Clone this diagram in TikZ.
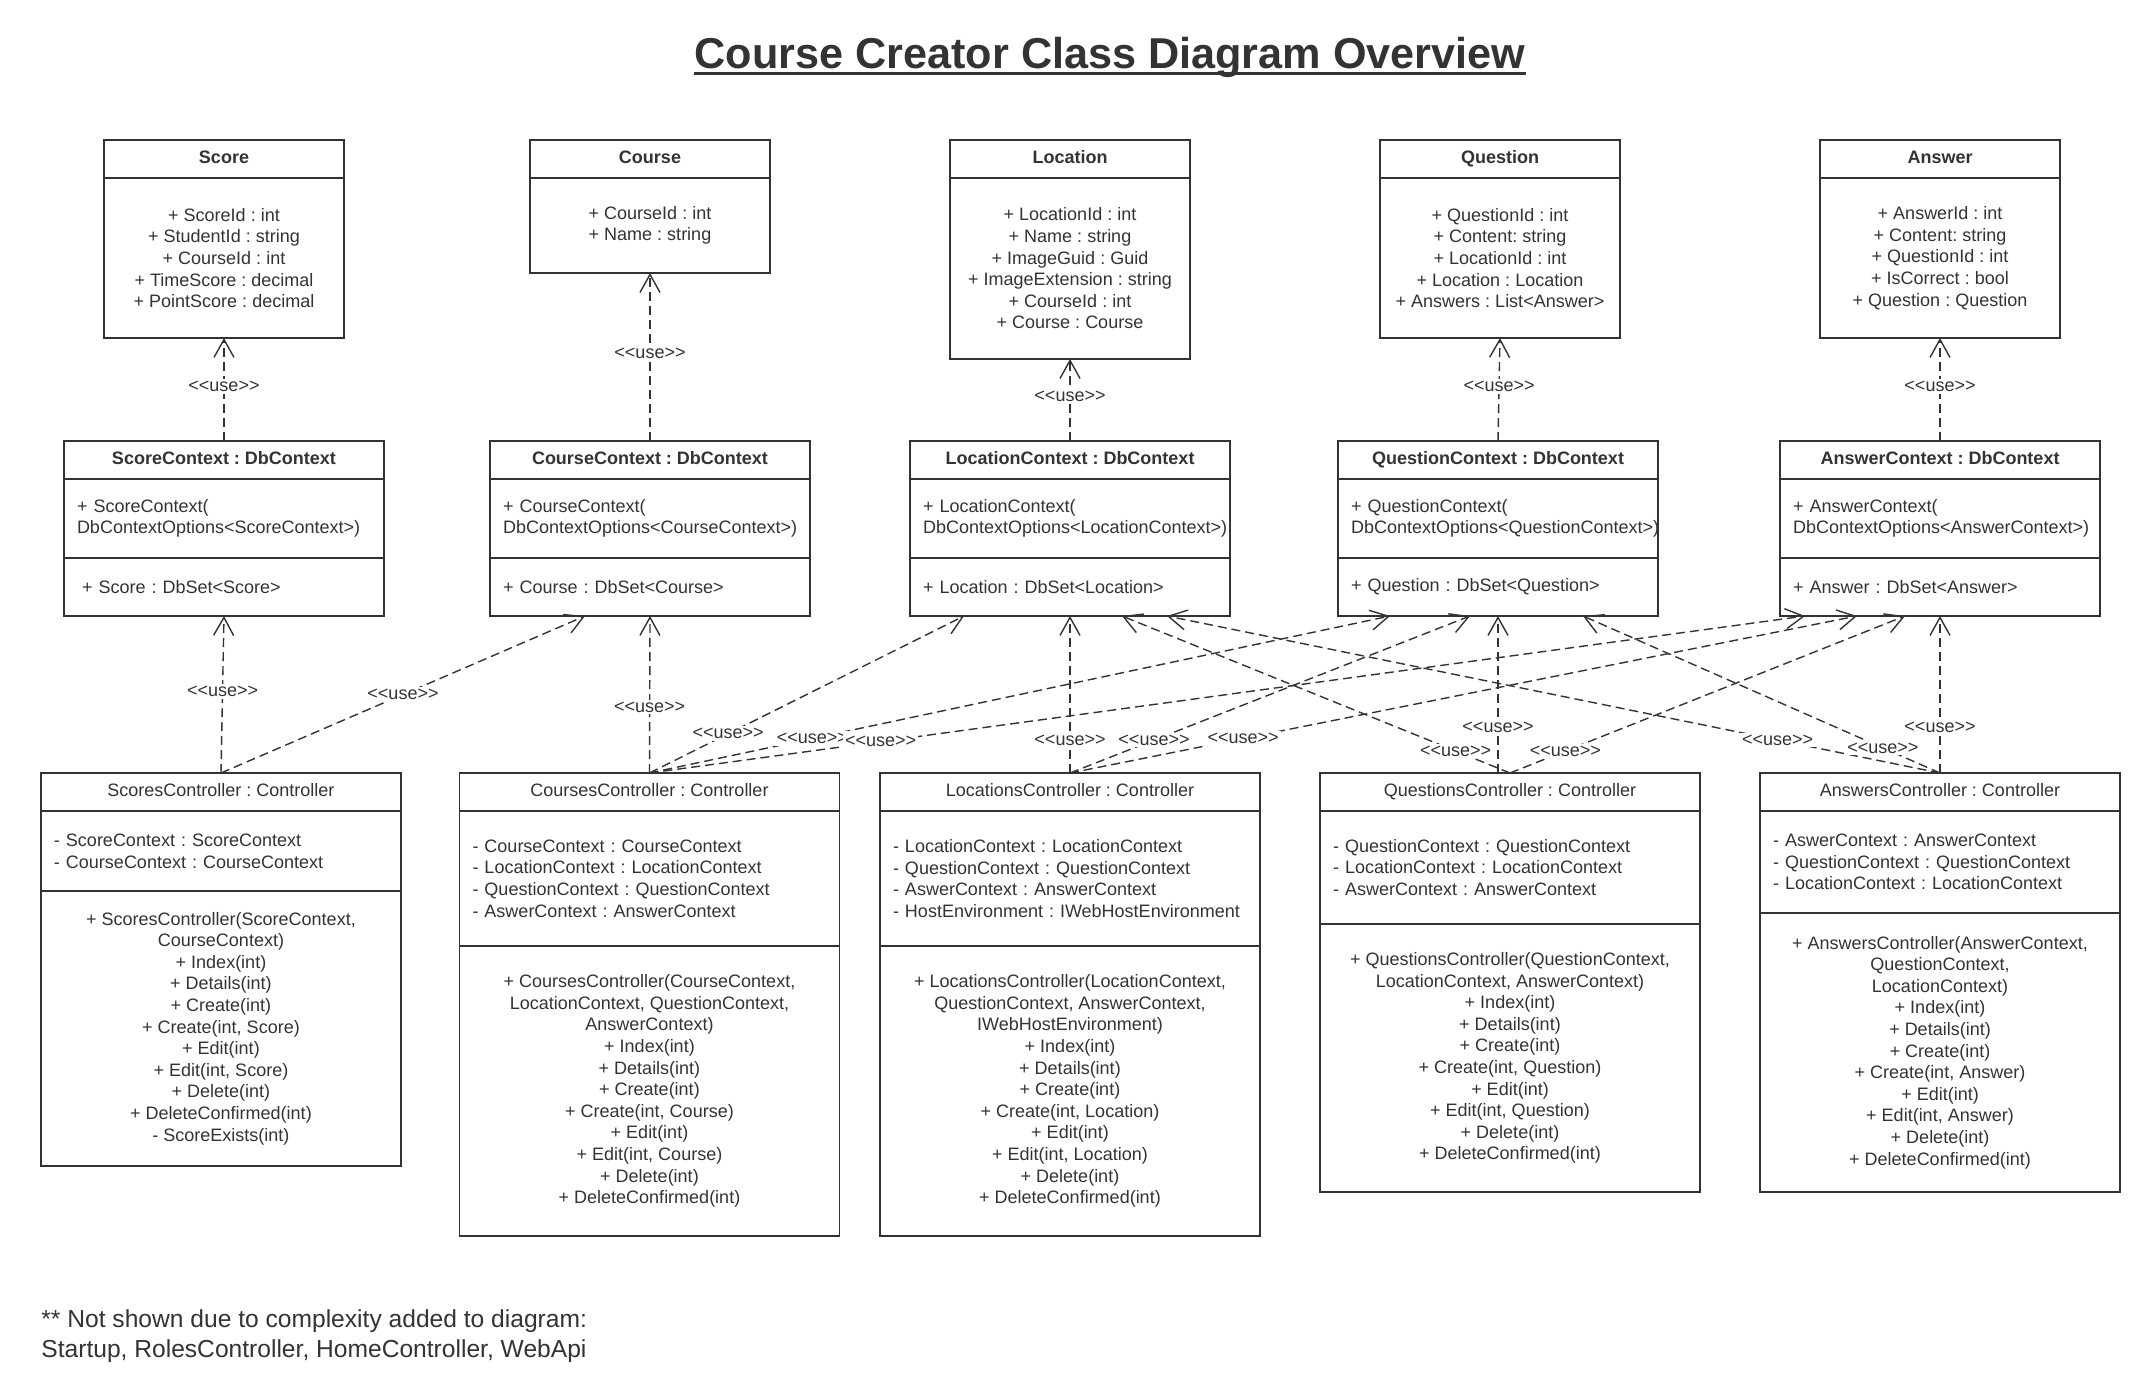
\documentclass[tikz,border=0pt]{standalone}
\usepackage{fontspec}
\setmainfont{Liberation Sans}[Ligatures=TeXOff]
\usepackage{xcolor}
\usetikzlibrary{positioning,arrows.meta}
\definecolor{ink}{HTML}{333333}
\frenchspacing

\tikzset{
  every node/.style={font=\fontsize{9}{10.8}\selectfont, text=ink},
  umlbox/.style={draw=ink, line width=0.9pt, fill=white, outer sep=0pt, inner sep=0pt},
  headbold/.style={umlbox, minimum height=19pt, minimum width=#1, text height=6.8pt, text depth=2pt, font=\fontsize{9}{10.8}\selectfont\bfseries},
  headplain/.style={umlbox, minimum height=19pt, minimum width=#1, text height=6.8pt, text depth=2pt},
  midpart/.style={umlbox, minimum width=#1, align=center},
  leftpart/.style={umlbox, text width=#1, inner xsep=6.5pt, align=left},
  uses/.style={draw=ink, line width=0.7pt, dash pattern=on 4.5pt off 2.5pt, -{Straight Barb[length=9pt,width=10pt]}},
  uselabel/.style={fill=white, inner sep=1pt}
}

\begin{document}
\begin{tikzpicture}[x=0.5pt,y=-0.5pt]
\path[use as bounding box, fill=white] (0,0) rectangle (2153,1393);

\node[font=\fontsize{21.6}{26}\selectfont\bfseries, inner sep=0pt, anchor=base] (title) at (1110,68) {Course Creator Class Diagram Overview};
\draw[ink, line width=1.4pt] ([yshift=-2.6pt]title.base west) -- ([yshift=-2.6pt]title.base east);

\node[headbold=120pt] (score) at (224,159) {Score};
\node[midpart=120pt, minimum height=80pt, below=0pt of score] (score-attr) {+ ScoreId : int\\+ StudentId : string\\+ CourseId : int\\+ TimeScore : decimal\\+ PointScore : decimal};
\node[headbold=120pt] (course) at (650,159) {Course};
\node[midpart=120pt, minimum height=47.5pt, below=0pt of course] (course-attr) {+ CourseId : int\\+ Name : string};
\node[headbold=120pt] (loc) at (1070,159) {Location};
\node[midpart=120pt, minimum height=90.5pt, below=0pt of loc] (loc-attr) {+ LocationId : int\\+ Name : string\\+ ImageGuid : Guid\\+ ImageExtension : string\\+ CourseId : int\\+ Course : Course};
\node[headbold=120pt] (quest) at (1500,159) {Question};
\node[midpart=120pt, minimum height=80pt, below=0pt of quest] (quest-attr) {+ QuestionId : int\\+ Content: string\\+ LocationId : int\\+ Location : Location\\+ Answers : List<Answer>};
\node[headbold=120pt] (answ) at (1940,159) {Answer};
\node[midpart=120pt, minimum height=80pt, below=0pt of answ] (answ-attr) {+ AnswerId : int\\+ Content: string\\+ QuestionId : int\\+ IsCorrect : bool\\+ Question : Question};

\node[headbold=160pt] (scorectx) at (224,460) {ScoreContext : DbContext};
\node[leftpart=147pt, minimum height=39.5pt, below=0pt of scorectx] (scorectx-ctor) {+ ScoreContext(\\DbContextOptions<ScoreContext>)};
\node[leftpart=147pt, minimum height=29pt, below=0pt of scorectx-ctor] (scorectx-set) {\hspace{2.5pt}+ Score : DbSet<Score>};
\node[headbold=160pt] (coursectx) at (650,460) {CourseContext : DbContext};
\node[leftpart=147pt, minimum height=39.5pt, below=0pt of coursectx] (coursectx-ctor) {+ CourseContext(\\DbContextOptions<CourseContext>)};
\node[leftpart=147pt, minimum height=29pt, below=0pt of coursectx-ctor] (coursectx-set) {+ Course : DbSet<Course>};
\node[headbold=160pt] (locctx) at (1070,460) {LocationContext : DbContext};
\node[leftpart=147pt, minimum height=39.5pt, below=0pt of locctx] (locctx-ctor) {+ LocationContext(\\DbContextOptions<LocationContext>)};
\node[leftpart=147pt, minimum height=29pt, below=0pt of locctx-ctor] (locctx-set) {+ Location : DbSet<Location>};
\node[headbold=160pt] (questctx) at (1498,460) {QuestionContext : DbContext};
\node[leftpart=147pt, minimum height=39.5pt, below=0pt of questctx] (questctx-ctor) {+ QuestionContext(\\DbContextOptions<QuestionContext>)};
\node[leftpart=147pt, minimum height=29pt, below=0pt of questctx-ctor] (questctx-set) {+ Question : DbSet<Question>};
\node[headbold=160pt] (answctx) at (1940,460) {AnswerContext : DbContext};
\node[leftpart=147pt, minimum height=39.5pt, below=0pt of answctx] (answctx-ctor) {+ AnswerContext(\\DbContextOptions<AnswerContext>)};
\node[leftpart=147pt, minimum height=29pt, below=0pt of answctx-ctor] (answctx-set) {+ Answer : DbSet<Answer>};

\node[headplain=180pt] (scorectrl) at (221,792) {ScoresController : Controller};
\node[leftpart=167pt, minimum height=40pt, below=0pt of scorectrl] (scorectrl-fld) {- ScoreContext : ScoreContext\\- CourseContext : CourseContext};
\node[midpart=180pt, minimum height=137.5pt, below=0pt of scorectrl-fld] (scorectrl-ops) {+ ScoresController(ScoreContext,\\CourseContext)\\+ Index(int)\\+ Details(int)\\+ Create(int)\\+ Create(int, Score)\\+ Edit(int)\\+ Edit(int, Score)\\+ Delete(int)\\+ DeleteConfirmed(int)\\- ScoreExists(int)};
\node[headplain=190pt] (coursectrl) at (649.5,792) {CoursesController : Controller};
\node[leftpart=177pt, minimum height=67.5pt, below=0pt of coursectrl] (coursectrl-fld) {- CourseContext : CourseContext\\- LocationContext : LocationContext\\- QuestionContext : QuestionContext\\- AswerContext : AnswerContext};
\node[midpart=190pt, minimum height=145pt, below=0pt of coursectrl-fld] (coursectrl-ops) {+ CoursesController(CourseContext,\\LocationContext, QuestionContext,\\AnswerContext)\\+ Index(int)\\+ Details(int)\\+ Create(int)\\+ Create(int, Course)\\+ Edit(int)\\+ Edit(int, Course)\\+ Delete(int)\\+ DeleteConfirmed(int)};
\node[headplain=190pt] (locctrl) at (1070,792) {LocationsController : Controller};
\node[leftpart=177pt, minimum height=67.5pt, below=0pt of locctrl] (locctrl-fld) {- LocationContext : LocationContext\\- QuestionContext : QuestionContext\\- AswerContext : AnswerContext\\- HostEnvironment : IWebHostEnvironment};
\node[midpart=190pt, minimum height=145pt, below=0pt of locctrl-fld] (locctrl-ops) {+ LocationsController(LocationContext,\\QuestionContext, AnswerContext,\\IWebHostEnvironment)\\+ Index(int)\\+ Details(int)\\+ Create(int)\\+ Create(int, Location)\\+ Edit(int)\\+ Edit(int, Location)\\+ Delete(int)\\+ DeleteConfirmed(int)};
\node[headplain=190pt] (questctrl) at (1510,792) {QuestionsController : Controller};
\node[leftpart=177pt, minimum height=56.5pt, below=0pt of questctrl] (questctrl-fld) {- QuestionContext : QuestionContext\\- LocationContext : LocationContext\\- AswerContext : AnswerContext};
\node[midpart=190pt, minimum height=134pt, below=0pt of questctrl-fld] (questctrl-ops) {+ QuestionsController(QuestionContext,\\LocationContext, AnswerContext)\\+ Index(int)\\+ Details(int)\\+ Create(int)\\+ Create(int, Question)\\+ Edit(int)\\+ Edit(int, Question)\\+ Delete(int)\\+ DeleteConfirmed(int)};
\node[headplain=180pt] (answctrl) at (1940,792) {AnswersController : Controller};
\node[leftpart=167pt, minimum height=51pt, below=0pt of answctrl] (answctrl-fld) {- AswerContext : AnswerContext\\- QuestionContext : QuestionContext\\- LocationContext : LocationContext};
\node[midpart=180pt, minimum height=139.5pt, below=0pt of answctrl-fld] (answctrl-ops) {+ AnswersController(AnswerContext,\\QuestionContext,\\LocationContext)\\+ Index(int)\\+ Details(int)\\+ Create(int)\\+ Create(int, Answer)\\+ Edit(int)\\+ Edit(int, Answer)\\+ Delete(int)\\+ DeleteConfirmed(int)};

\draw[uses] (scorectx.north) -- node[uselabel, pos=0.53] {<<use>>} (score-attr.south);
\draw[uses] (coursectx.north) -- node[uselabel, pos=0.52] {<<use>>} (course-attr.south);
\draw[uses] (locctx.north) -- node[uselabel, pos=0.54] {<<use>>} (loc-attr.south);
\draw[uses] (questctx.north) -- node[uselabel, pos=0.53] {<<use>>} (quest-attr.south);
\draw[uses] (answctx.north) -- node[uselabel, pos=0.53] {<<use>>} (answ-attr.south);

\draw[uses] (scorectrl.north) -- node[uselabel, pos=0.52] {<<use>>} (scorectx-set.south);
\draw[uses] (scorectrl.north) -- node[uselabel, pos=0.5] {<<use>>} ([xshift=-32.5pt]coursectx-set.south);
\draw[uses] (coursectrl.north) -- node[uselabel, pos=0.42] {<<use>>} (coursectx-set.south);
\draw[uses] (coursectrl.north) -- node[uselabel, pos=0.25] {<<use>>} ([xshift=-53pt]locctx-set.south);
\draw[uses] (coursectrl.north) -- node[uselabel, pos=0.22] {<<use>>} ([xshift=-54pt]questctx-set.south);
\draw[uses] (coursectrl.north) -- node[uselabel, pos=0.2] {<<use>>} ([xshift=-67.5pt]answctx-set.south);
\draw[uses] (locctrl.north) -- node[uselabel, pos=0.21] {<<use>>} (locctx-set.south);
\draw[uses] (locctrl.north) -- node[uselabel, pos=0.21] {<<use>>} ([xshift=-14pt]questctx-set.south);
\draw[uses] (locctrl.north) -- node[uselabel, pos=0.22] {<<use>>} ([xshift=-41.5pt]answctx-set.south);
\draw[uses] (questctrl.north -| questctx-set.south) -- node[uselabel, pos=0.29] {<<use>>} (questctx-set.south);
\draw[uses] (questctrl.north) -- node[uselabel, pos=0.14] {<<use>>} ([xshift=26pt]locctx-set.south);
\draw[uses] (questctrl.north) -- node[uselabel, pos=0.14] {<<use>>} ([xshift=-17.5pt]answctx-set.south);
\draw[uses] (answctrl.north) -- node[uselabel, pos=0.29] {<<use>>} (answctx-set.south);
\draw[uses] (answctrl.north) -- node[uselabel, pos=0.21] {<<use>>} ([xshift=48.5pt]locctx-set.south);
\draw[uses] (answctrl.north) -- node[uselabel, pos=0.16] {<<use>>} ([xshift=42.5pt]questctx-set.south);

\node[font=\fontsize{12.3}{15.3}\selectfont, align=left, anchor=north west, inner sep=0pt] (note) at (41,1309) {** Not shown due to complexity added to diagram:\\Startup, RolesController, HomeController, WebApi};
\end{tikzpicture}
\end{document}
